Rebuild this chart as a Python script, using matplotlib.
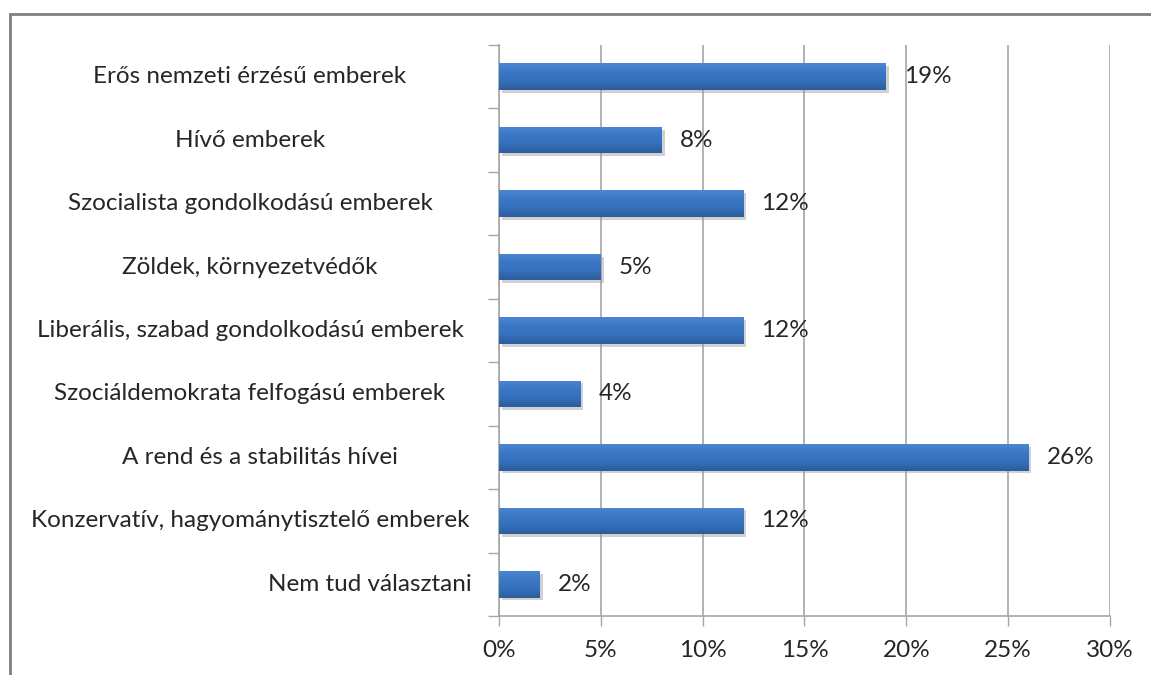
import matplotlib.pyplot as plt
import matplotlib.patheffects as pe
from matplotlib.patches import Rectangle
from matplotlib.colors import LinearSegmentedColormap
import numpy as np

categories = [
    'Erős nemzeti érzésű emberek',
    'Hívő emberek',
    'Szocialista gondolkodású emberek',
    'Zöldek, környezetvédők',
    'Liberális, szabad gondolkodású emberek',
    'Szociáldemokrata felfogású emberek',
    'A rend és a stabilitás hívei',
    'Konzervatív, hagyománytisztelő emberek',
    'Nem tud választani',
]
values = [19, 8, 12, 5, 12, 4, 26, 12, 2]
xticks = [0, 5, 10, 15, 20, 25, 30]

plt.rcParams['font.family'] = ['Lato', 'DejaVu Sans']
text_color = '#262626'
grid_color = '#a6a6a6'
fs = 17.5

fig = plt.figure(figsize=(11.51, 6.75), dpi=100)
ax = fig.add_axes([499 / 1151, 1 - 616 / 675, 611 / 1151, 571 / 675])

y = np.arange(len(categories))
bars = ax.barh(y, values, height=0.42, color='#3a74c0', zorder=3,
               edgecolor='none')

# vertical gradient + soft shadow on each bar
grad = np.linspace(0, 1, 64).reshape(-1, 1)
cmap = LinearSegmentedColormap.from_list(
    'bar', ['#4a86d2', '#3b77c4', '#3570bb', '#2c5c9c'])
for b in bars:
    b.set_path_effects([pe.SimplePatchShadow(offset=(2, -2), shadow_rgbFace='#9a9a9a', alpha=0.45),
                        pe.Normal()])
    x0, y0, w, h = b.get_x(), b.get_y(), b.get_width(), b.get_height()
    im = ax.imshow(grad, cmap=cmap, aspect='auto', extent=(x0, x0 + w, y0 + h, y0),
                   zorder=4, interpolation='bilinear')
    im.set_clip_path(b)

ax.bar_label(bars, labels=[f'{v}%' for v in values], padding=13,
             fontsize=fs, color=text_color)

ax.set_xlim(0, 30)
ax.set_ylim(len(categories) - 0.5, -0.5)
ax.set_xticks(xticks)
ax.set_xticklabels([f'{t}%' for t in xticks], fontsize=fs, color=text_color)
ax.tick_params(axis='x', length=7, width=1, color=grid_color, pad=10)

ax.set_yticks([])
ax.set_yticks(np.arange(-0.5, len(categories)), minor=True)
ax.tick_params(axis='y', which='minor', length=8, width=1, color=grid_color)

ax.grid(axis='x', color=grid_color, linewidth=1.2, zorder=0)
for s in ['top', 'right']:
    ax.spines[s].set_visible(False)
for s in ['left', 'bottom']:
    ax.spines[s].set_color(grid_color)
    ax.spines[s].set_linewidth(1.2)

# category labels, centred in the left area
trans = ax.get_yaxis_transform()
for i, name in enumerate(categories):
    if name == 'Nem tud választani':
        ax.text(-27 / 611, i, name, transform=trans, ha='right', va='center',
                fontsize=fs, color=text_color)
    elif name == 'A rend és a stabilitás hívei':
        ax.text(-239 / 611, i, name, transform=trans, ha='center', va='center',
                fontsize=fs, color=text_color)
    else:
        ax.text(-249 / 611, i, name, transform=trans, ha='center', va='center',
                fontsize=fs, color=text_color)

# outer chart frame
fig.patches.append(Rectangle((10 / 1151, -0.1), 1.2, 1 - 14 / 675 + 0.1,
                             transform=fig.transFigure, fill=False,
                             edgecolor='#7f7f7f', linewidth=2))

fig.savefig('out.png', dpi=100)
